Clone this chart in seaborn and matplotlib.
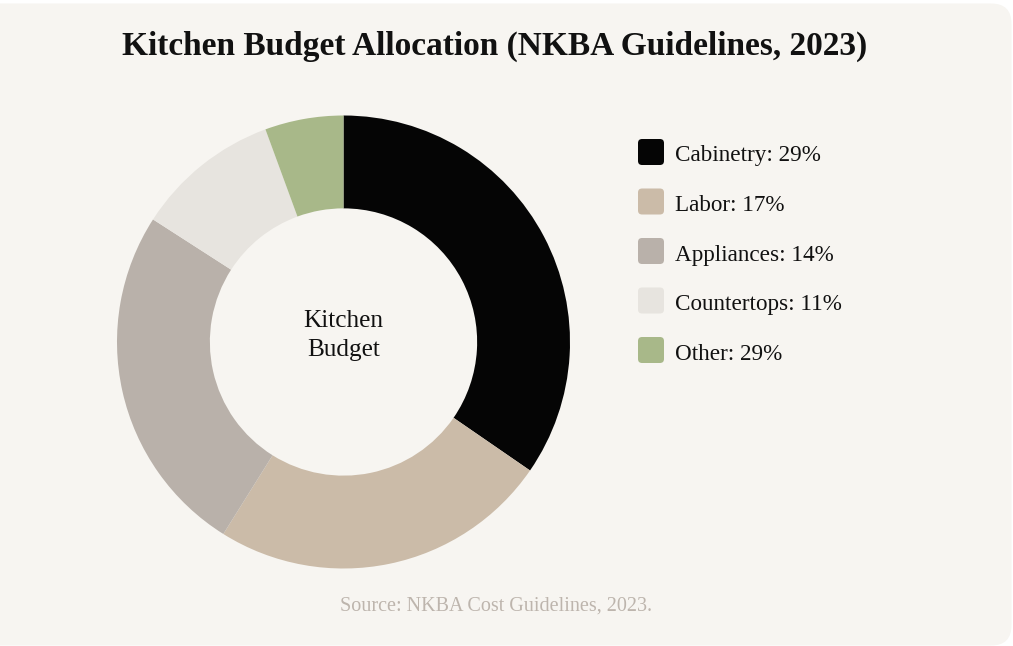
# Kitchen budget donut

import numpy as np
import pandas as pd
import seaborn as sns
import matplotlib.pyplot as plt
from matplotlib.patches import FancyBboxPatch

# data
categories = ['Cabinetry', 'Labor', 'Appliances', 'Countertops', 'Other']
shares = [34.6, 24.3, 25.2, 10.3, 5.6]          # slice sizes as drawn
legend_pct = ['29%', '17%', '14%', '11%', '29%']  # text shown in the legend
colors = ['#050505', '#cbbba8', '#b9b1aa', '#e7e4df', '#a8b889']

bg = '#f7f5f1'

sns.set_theme(style='white')
plt.rcParams['font.family'] = ['Liberation Serif', 'DejaVu Serif']

df = pd.DataFrame(dict(category=categories, share=shares, pct=legend_pct))
palette = sns.color_palette(colors)

W, H = 1013, 646
fig = plt.figure(figsize=(W / 100, H / 100), dpi=100)
fig.patch.set_facecolor('white')

# card with rounded right corners, left side runs off the canvas
card = FancyBboxPatch((-30 / W, 0.5 / H), (1041.5 / W), (642 / H),
                      boxstyle='round,pad=0,rounding_size=0.02',
                      transform=fig.transFigure, facecolor=bg, edgecolor='none',
                      mutation_aspect=W / H, zorder=-10)
fig.patches.append(card)

# donut
cx, cy, r = 343.5, 646 - 342, 226.5
ax = fig.add_axes([(cx - r) / W, (cy - r) / H, 2 * r / W, 2 * r / H])
ax.set_zorder(1)
ax.patch.set_visible(False)
ax.pie(df.share, colors=palette, startangle=90, counterclock=False,
       radius=1, wedgeprops=dict(width=0.41, edgecolor='none'))
ax.set_xlim(-1, 1)
ax.set_ylim(-1, 1)
ax.set_aspect('auto')
ax.axis('off')
ax.text(0, 0.03, 'Kitchen\nBudget', ha='center', va='center',
        fontsize=18.2, color='#111111', linespacing=1.4)

# legend
for i, row in df.iterrows():
    y = 646 - (152 + i * 49.5)
    sq = FancyBboxPatch((638 / W, (y - 13) / H), 26 / W, 26 / H,
                        boxstyle='round,pad=0,rounding_size=0.004',
                        transform=fig.transFigure, facecolor=palette[i],
                        edgecolor='none', mutation_aspect=W / H)
    fig.patches.append(sq)
    fig.text(675 / W, (y - 4) / H, f'{row.category}: {row.pct}', ha='left', va='center',
             fontsize=16.7, color='#111111')

fig.text(495 / W, (646 - 46) / H, 'Kitchen Budget Allocation (NKBA Guidelines, 2023)',
         ha='center', va='center', fontsize=24, fontweight='bold', color='#111111')
fig.text(496 / W, (646 - 606) / H, 'Source: NKBA Cost Guidelines, 2023.',
         ha='center', va='center', fontsize=14.5, color='#bdb5ad')

plt.savefig('out.png', dpi=100, facecolor=fig.get_facecolor())
